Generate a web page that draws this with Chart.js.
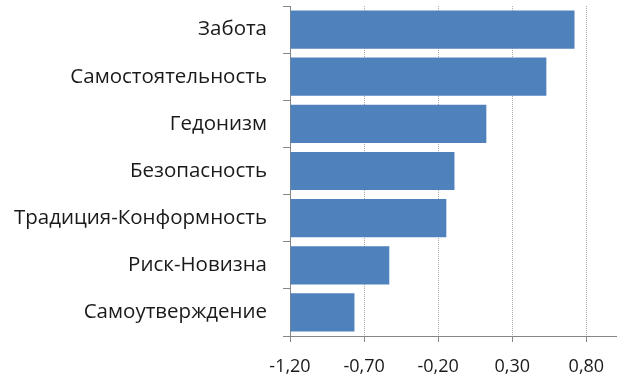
<!DOCTYPE html>
<html>
<head>
<meta charset="utf-8">
<script src="https://cdn.jsdelivr.net/npm/chart.js@4"></script>
<style>
  html, body { margin: 0; padding: 0; background: #fff; }
  #wrap { width: 619px; height: 383px; }
</style>
</head>
<body>
<div id="wrap"><canvas id="myChart"></canvas></div>
<script>
const categories = ['Забота', 'Самостоятельность', 'Гедонизм', 'Безопасность',
  'Традиция-Конформность', 'Риск-Новизна', 'Самоутверждение']
const values = [0.72, 0.53, 0.125, -0.09, -0.145, -0.53, -0.765]
const xTicks = [-1.2, -0.7, -0.2, 0.3, 0.8]
const xMin = -1.2
const xMax = 1.0

const axisGrey = '#868686'

const chart = document.getElementById('myChart')

new Chart(chart, {
  type: 'bar',
  data: {
    labels: categories,
    datasets: [{
      data: values,
      base: xMin,
      backgroundColor: '#4F81BD',
      borderWidth: 0,
      barPercentage: 0.81,
      categoryPercentage: 1
    }]
  },
  options: {
    indexAxis: 'y',
    responsive: true,
    maintainAspectRatio: false,
    animation: false,
    layout: { padding: { top: 6, right: 3, left: 0, bottom: 0 } },
    plugins: {
      legend: { display: false },
      tooltip: { enabled: false }
    },
    scales: {
      x: {
        min: xMin,
        max: xMax,
        afterBuildTicks: (scale) => {
          scale.ticks = xTicks.map((v) => ({ value: v }))
        },
        afterFit: (scale) => {
          scale.height = 47
          scale.paddingLeft = 0
          scale.paddingRight = 0
        },
        grid: {
          color: '#aaaaaa',
          tickColor: axisGrey,
          tickLength: 6,
          lineWidth: 1
        },
        border: { display: true, color: axisGrey, dash: [1, 1] },
        ticks: {
          color: '#1a1a1a',
          font: { family: "'Open Sans'", size: 18 },
          padding: 14,
          maxRotation: 0,
          callback: (v) => Number(v).toFixed(2).replace('.', ',')
        }
      },
      y: {
        afterFit: (scale) => {
          scale.width = 290
          scale.paddingTop = 0
          scale.paddingBottom = 0
        },
        grid: {
          offset: true,
          drawOnChartArea: false,
          color: axisGrey,
          tickLength: 7
        },
        border: { display: true, color: axisGrey },
        ticks: {
          color: '#1a1a1a',
          font: { family: "'Open Sans'", size: 20.5 },
          padding: 16
        }
      }
    }
  }
})
</script>
</body>
</html>
